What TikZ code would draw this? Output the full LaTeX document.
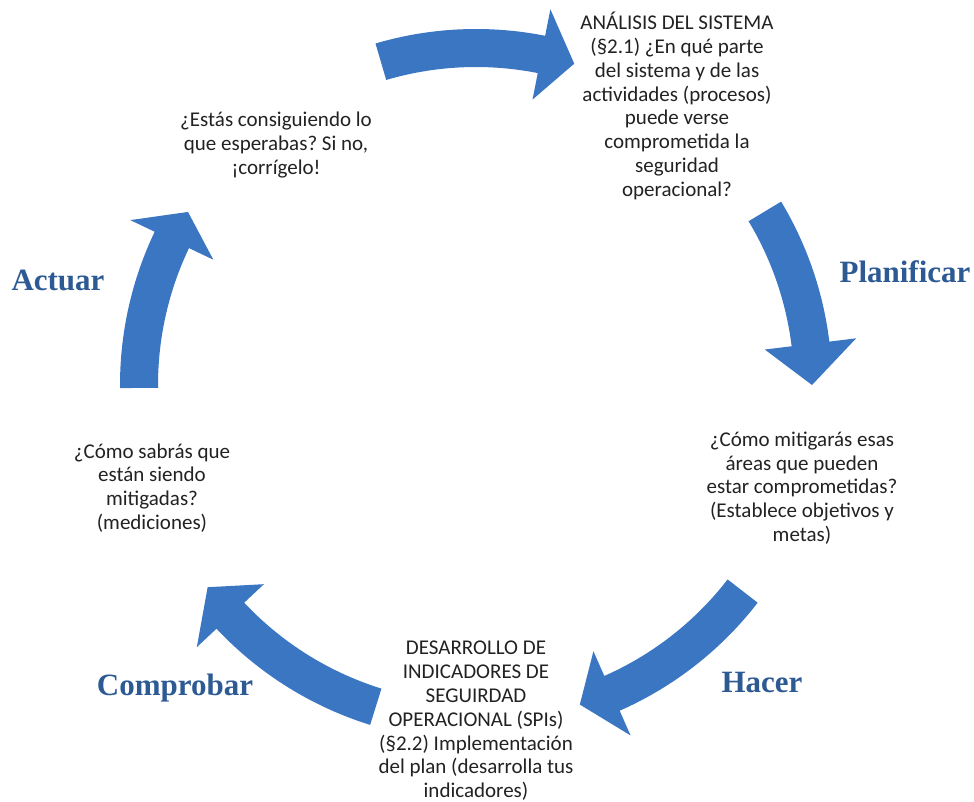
\documentclass[tikz,border=0pt]{standalone}
\usepackage{fontspec}
\setmainfont{Carlito}
\newfontfamily\labelfont{Liberation Serif}
\frenchspacing
\definecolor{arrowblue}{HTML}{3B76C3}
\definecolor{labelblue}{HTML}{2E5A94}
\definecolor{bodytext}{HTML}{222222}
% curved block arrow around the cycle centre (476,385):
% #1 tail angle, #2 angle of the head base, #3 angle of the tip
\newcommand\cyclearrow[3]{%
  \fill[blockarrow]
    plot[domain=#1:#2, samples=40, variable=\t] ({476+356*cos(\t)},{385+356*sin(\t)})
    -- ({476+383*cos(#2)},{385+383*sin(#2)})
    -- ({476+336*cos(#3)},{385+336*sin(#3)})
    -- ({476+291*cos(#2)},{385+291*sin(#2)})
    -- plot[domain=#2:#1, samples=40, variable=\t] ({476+318*cos(\t)},{385+318*sin(\t)})
    -- cycle;}
\begin{document}
\begin{tikzpicture}[x=1pt,y=-1pt,
  blockarrow/.style={fill=arrowblue, draw=none},
  bodynode/.style={align=center, inner sep=0pt, text=bodytext, font=\fontsize{21}{23.8}\selectfont},
  phase/.style={inner sep=0pt, text=labelblue, font=\labelfont\bfseries\fontsize{31}{36}\selectfont}]
\useasboundingbox (0,0) rectangle (974,802);
\fill[white] (0,0) rectangle (974,802);

% the five arrows of the cycle
\cyclearrow{-106.4}{-78.8}{-73}   % top
\cyclearrow{-31}{-7}{0}           % Planificar
\cyclearrow{37.7}{66.2}{72}       % Hacer
\cyclearrow{107.3}{136.8}{143}    % Comprobar
\cyclearrow{179.5}{205.5}{211}    % Actuar

% texts
\node[bodynode] (analisis) at (677,106) {ANÁLISIS DEL SISTEMA\\(§2.1) ¿En qué parte\\del sistema y de las\\actividades (procesos)\\puede verse\\comprometida la\\seguridad\\operacional?};
\node[bodynode] (corrige) at (276,145) {¿Estás consiguiendo lo\\que esperabas? Si no,\\¡corrígelo!};
\node[bodynode] (mitigar) at (802,488) {¿Cómo mitigarás esas\\áreas que pueden\\estar comprometidas?\\(Establece objetivos y\\metas)};
\node[bodynode] (medir) at (152,488) {¿Cómo sabrás que\\están siendo\\mitigadas?\\(mediciones)};
\node[bodynode] (spi) at (476,721) {DESARROLLO DE\\INDICADORES DE\\SEGUIRDAD\\OPERACIONAL (SPIs)\\(§2.2) Implementación\\del plan (desarrolla tus\\indicadores)};

% phase labels
\node[phase] (planificar) at (905,272) {Planificar};
\node[phase] (actuar) at (58,280) {Actuar};
\node[phase] (hacer) at (762,682) {Hacer};
\node[phase] (comprobar) at (175,688) {Comprobar};
\end{tikzpicture}
\end{document}
